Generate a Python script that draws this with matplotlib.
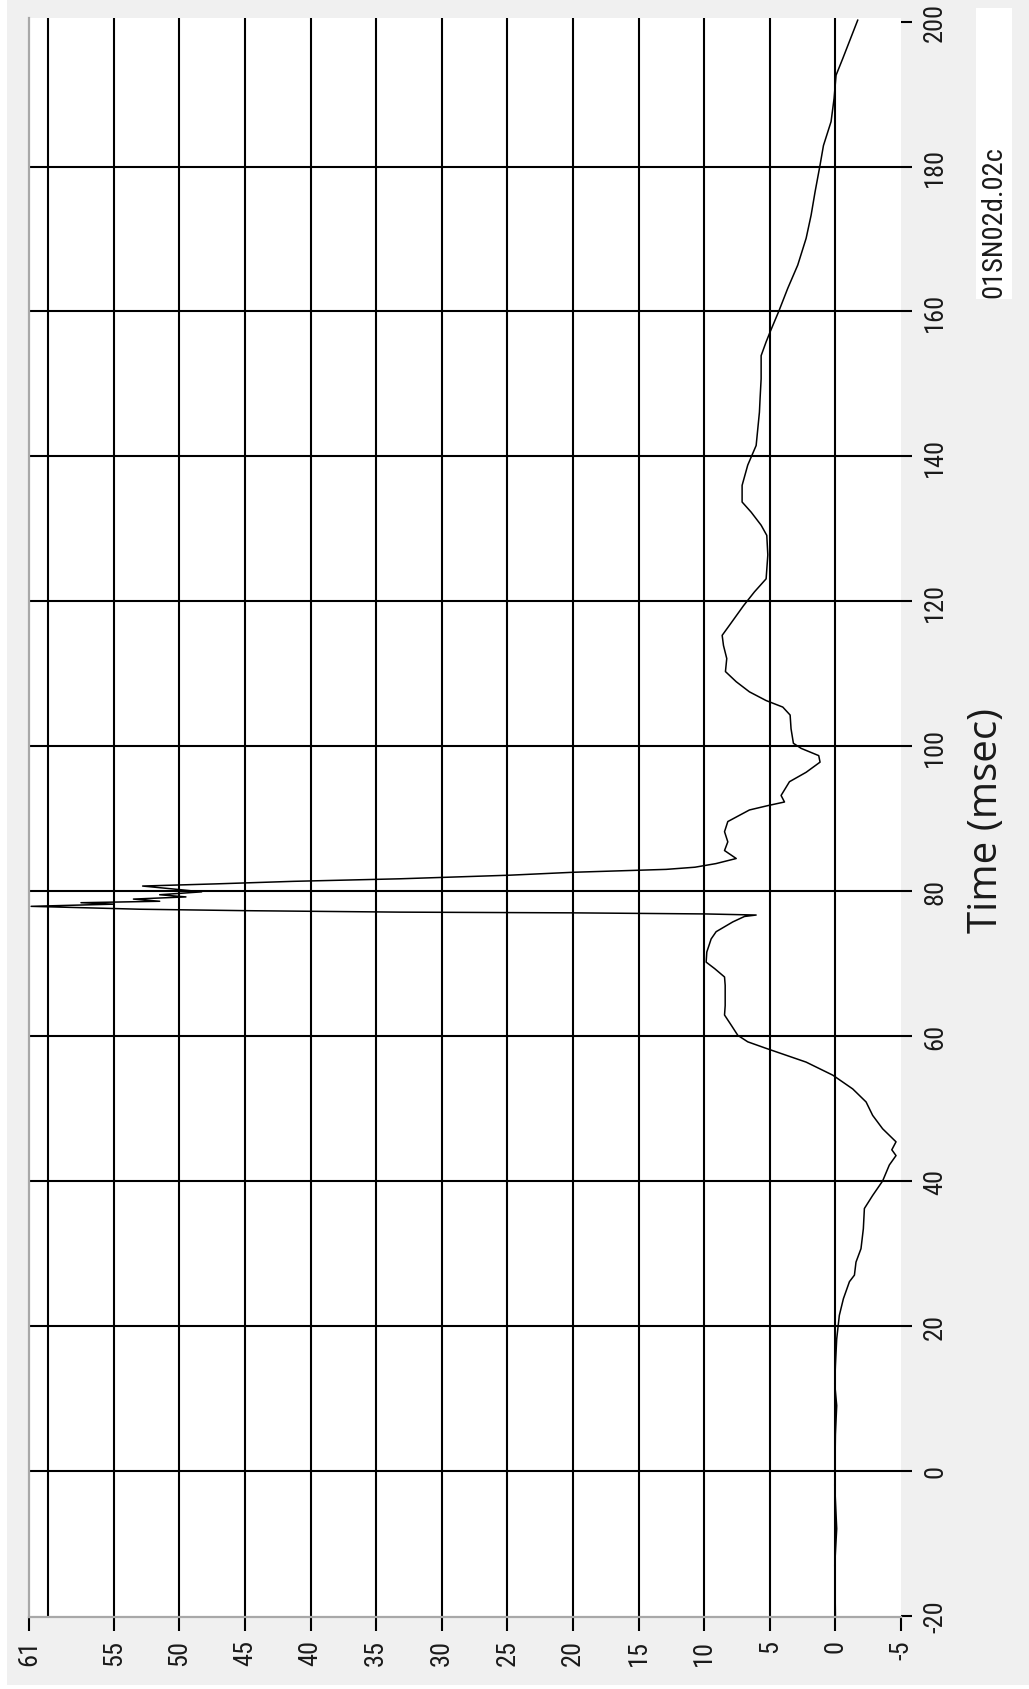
import matplotlib
matplotlib.use("Agg")
import matplotlib.pyplot as plt
from matplotlib.patches import Rectangle

# trace: time (msec) and amplitude
time_ms = [-20, -13, -8, -2, 5, 9, 12, 14.5, 18.2, 21.45, 23.75, 26.1, 27.0, 28.8,
           30.65, 33.4, 36.2, 38.0, 40.0, 42.2, 43.5, 44.3, 45.4, 47.2, 49.05, 50.9,
           52.7, 54.6, 56.4, 58.3, 59.2, 60.1, 61.5, 62.9, 64.2, 67.0, 68.15, 69.3,
           70.2, 71.6, 73.4, 74.4, 75.75, 76.5, 76.7, 76.85, 77.0, 77.1, 77.3, 77.5,
           77.9, 78.2, 78.4, 78.6, 78.9, 79.2, 79.5, 79.9, 80.3, 80.7, 81.0, 81.35,
           81.7, 82.2, 82.6, 83.0, 83.3, 83.8, 84.5, 85.6, 86.8, 88.2, 89.6, 91.2,
           91.8, 92.3, 93.2, 95.1, 96.4, 97.8, 98.7, 99.7, 100.4, 102.4, 104.3,
           105.4, 106.3, 107.5, 108.9, 110.3, 112.1, 113.9, 115.3, 116.7, 119.4,
           121.3, 123.1, 126.4, 129.1, 130.5, 132.3, 133.7, 136.0, 138.8, 141.5,
           146.1, 148.0, 150.7, 153.9, 155.8, 157.2, 160.0, 163.2, 166.4, 170.1,
           173.3, 176.5, 180.2, 182.9, 186.2, 189.4, 192.6, 194.9, 200.2]
amplitude = [0, 0.05, -0.1, 0.05, 0, -0.1, 0.05, 0, -0.1, -0.3, -0.61, -1.07, -1.45, -1.57,
             -1.95, -2.13, -2.21, -2.84, -3.6, -4.11, -4.62, -4.3, -4.62, -3.6, -2.84, -2.34,
             -1.32, 0.2, 2.23, 5.28, 6.68, 7.44, 7.94, 8.45, 8.4, 8.4, 8.45, 9.2,
             9.85, 9.8, 9.47, 9.09, 7.82, 6.93, 6.04, 9.9, 20.0, 33.2, 44.9, 53.0,
             61.3, 55.0, 57.5, 51.5, 53.5, 49.5, 51.5, 48.3, 50.5, 52.8, 47.2, 41.3,
             33.2, 24.8, 20.0, 12.9, 10.7, 9.1, 7.56, 8.45, 8.2, 8.45, 8.2, 6.55,
             5.15, 3.88, 4.14, 3.5, 2.23, 1.17, 1.27, 2.61, 3.2, 3.38, 3.45,
             4.01, 5.28, 6.55, 7.56, 8.38, 8.28, 8.53, 8.63, 8.07, 7.0,
             6.17, 5.28, 5.15, 5.23, 5.66, 6.42, 7.11, 7.11, 6.68, 6.04,
             5.79, 5.74, 5.66, 5.66, 5.28, 4.97, 4.32, 3.63, 2.87, 2.23,
             1.85, 1.55, 1.17, 0.91, 0.33, 0.1, -0.05, -0.56, -1.7]

amp_ticks = [61.46, 55, 50, 45, 40, 35, 30, 25, 20, 15, 10, 5, 0, -5]
amp_tick_labels = ["61", "55", "50", "45", "40", "35", "30", "25", "20", "15", "10", "5", "0", "-5"]
amp_grid = [60, 55, 50, 45, 40, 35, 30, 25, 20, 15, 10, 5, 0]
time_ticks = [-20, 0, 20, 40, 60, 80, 100, 120, 140, 160, 180, 200]
time_grid = [0, 20, 40, 60, 80, 100, 120, 140, 160, 180]
trace_id = "01SN02d.02c"

W, H = 1029, 1690
narrow = ["Roboto Condensed", "DejaVu Sans"]

fig = plt.figure(figsize=(W / 100, H / 100), dpi=100)
fig.patch.set_facecolor("white")
fig.add_artist(Rectangle((7 / W, 4 / H), 1 - 7 / W, 1 - 4 / H, transform=fig.transFigure,
                         facecolor="#f0f0f0", edgecolor="none", zorder=-5))

ax = fig.add_axes([29 / W, 1 - 1618 / H, (901 - 29) / W, (1618 - 19) / H])
ax.set_facecolor("white")

for v in amp_grid:
    ax.axvline(v, color="black", lw=1.5, zorder=1)
for t in time_grid:
    ax.axhline(t, color="black", lw=1.5, zorder=1)

ax.plot(amplitude, time_ms, color="black", lw=1.1, zorder=2)

ax.set_xlim(61.46, -5)
ax.set_ylim(-20.18, 200.5)

for side in ["top", "right"]:
    ax.spines[side].set_visible(False)
for side in ["left", "bottom"]:
    ax.spines[side].set_color("#a8a8a8")
    ax.spines[side].set_linewidth(1.6)

ax.set_xticks(amp_ticks, labels=amp_tick_labels, rotation=90, family=narrow,
              fontstretch="condensed", fontsize=19, color="#1a1a1a")
ax.yaxis.tick_right()
ax.set_yticks(time_ticks, labels=[str(t) for t in time_ticks], rotation=90, va="center",
              family=narrow, fontstretch="condensed", fontsize=19, color="#1a1a1a")
ax.tick_params(axis="x", direction="out", length=10, width=1.5, color="black", pad=6)
ax.tick_params(axis="y", direction="out", length=8, width=1.5, color="black", pad=8)

fig.text(987 / W, 1 - 821 / H, "Time (msec)", rotation=90, ha="center", va="center",
         family=["Open Sans", "DejaVu Sans"], fontsize=29, color="#1a1a1a")

# id tag in a white box, top right
fig.add_artist(Rectangle((976 / W, 1 - 300 / H), 36 / W, 291 / H, transform=fig.transFigure,
                         facecolor="white", edgecolor="none"))
fig.text(994 / W, 1 - 298 / H, trace_id, rotation=90, ha="center", va="bottom",
         family=narrow, fontstretch="condensed", fontsize=20.5, color="#1a1a1a")

fig.savefig("out.png", dpi=100, facecolor=fig.get_facecolor())
